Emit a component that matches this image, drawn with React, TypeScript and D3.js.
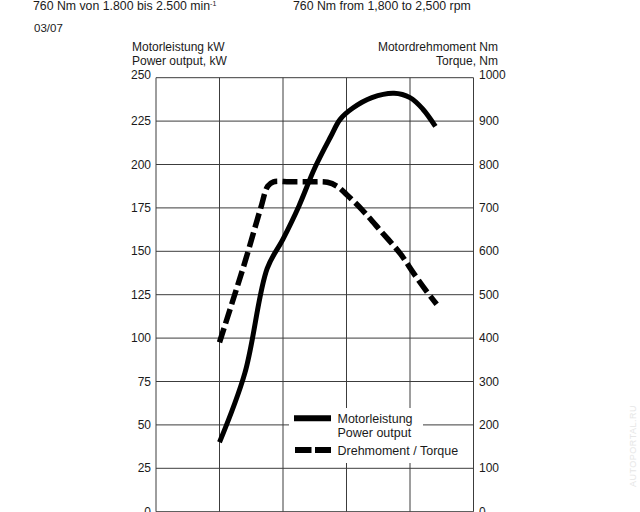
import React from "react";
import * as d3 from "d3";

// rpm values (x) and readings
const powerRpm = [1000, 1400, 1750, 2000, 2250, 2500, 2750, 2900, 3100, 3400, 3750, 4000, 4200, 4400];
const powerKw = [40, 80, 140, 157, 176, 198, 216, 226, 232.5, 238.5, 241, 238.5, 232, 222];

const torqueRpm = [1000, 1200, 1400, 1650, 1760, 1850, 2100, 2450, 2700, 2850, 3000, 3250, 3550, 3850, 4050, 4250, 4420];
const torqueNm = [390, 482, 575, 700, 750, 760, 760, 760, 759, 750, 731, 695, 645, 594, 551, 510, 478];

const rpmGridLines = [0, 1000, 2000, 3000, 4000, 5000];
const leftTicks = [0, 25, 50, 75, 100, 125, 150, 175, 200, 225, 250];
const rightTicks = [0, 100, 200, 300, 400, 500, 600, 700, 800, 900, 1000];

const FONT = "'Liberation Sans', Arial, Helvetica, sans-serif";

export default function App() {
  const x = d3.scaleLinear().domain([0, 5000]).range([156, 473.5]);
  const yL = d3.scaleLinear().domain([0, 250]).range([511.7, 77.7]);
  const yR = d3.scaleLinear().domain([0, 1000]).range([511.7, 77.7]);

  const powerLine = d3
    .line<number>()
    .x((_, i) => x(powerRpm[i]))
    .y((d) => yL(d))
    .curve(d3.curveCatmullRom.alpha(0.5))(powerKw) as string;

  const torqueLine = d3
    .line<number>()
    .x((_, i) => x(torqueRpm[i]))
    .y((d) => yR(d))
    .curve(d3.curveCatmullRom.alpha(0.5))(torqueNm) as string;

  const gridColor = "#3c3c3c";
  const textColor = "#1a1a1a";

  return (
    <svg
      width={640}
      height={512}
      style={{ position: "absolute", left: 0, top: 0, background: "#fff" }}
      fontFamily={FONT}
    >
      <rect x={0} y={0} width={640} height={512} fill="#fff" />
      {/* header */}
      <text x={33} y={10} fontSize={12.3} fill={textColor}>
        760 Nm von 1.800 bis 2.500 min
        <tspan fontSize={7} dy={-4.5}>-1</tspan>
      </text>
      <text x={293} y={10} fontSize={12.3} fill={textColor}>
        760 Nm from 1,800 to 2,500 rpm
      </text>
      <text x={34} y={32} fontSize={11.5} fill={textColor}>
        03/07
      </text>

      {/* axis titles */}
      <text x={132} y={51} fontSize={12} fill={textColor}>Motorleistung kW</text>
      <text x={132} y={65} fontSize={12} fill={textColor}>Power output, kW</text>
      <text x={498} y={51} fontSize={12} fill={textColor} textAnchor="end">Motordrehmoment Nm</text>
      <text x={498} y={65} fontSize={12} fill={textColor} textAnchor="end">Torque, Nm</text>

      {/* grid */}
      {leftTicks.map((t) => (
        <line key={"h" + t} x1={x(0)} x2={x(5000)} y1={yL(t)} y2={yL(t)} stroke={gridColor} strokeWidth={1} />
      ))}
      {rpmGridLines.map((r) => (
        <line key={"v" + r} x1={x(r)} x2={x(r)} y1={yL(250)} y2={yL(0)} stroke={gridColor} strokeWidth={1} />
      ))}

      {/* tick labels */}
      {leftTicks.map((t) => (
        <text key={"lt" + t} x={151} y={yL(t) + (t === 250 ? 1.5 : 4)} fontSize={12} textAnchor="end" fill={textColor}>
          {t}
        </text>
      ))}
      {rightTicks.map((t) => (
        <text key={"rt" + t} x={479} y={yR(t) + (t === 1000 ? 1.5 : 4)} fontSize={12} fill={textColor}>
          {t}
        </text>
      ))}

      {/* legend background */}
      <rect x={289} y={408} width={134} height={55} fill="#fff" />

      {/* curves */}
      <path d={torqueLine} fill="none" stroke="#000" strokeWidth={5.5} strokeDasharray="15,5" />
      <path d={powerLine} fill="none" stroke="#000" strokeWidth={5} strokeLinecap="butt" strokeLinejoin="round" />

      {/* legend */}
      <line x1={294} x2={331} y1={418.3} y2={418.3} stroke="#000" strokeWidth={6} />
      <line x1={295} x2={331} y1={450} y2={450} stroke="#000" strokeWidth={6} strokeDasharray="16.5,3.5" />
      <text x={337.5} y={422.5} fontSize={12.5} fill={textColor}>Motorleistung</text>
      <text x={337.5} y={437} fontSize={12.5} fill={textColor}>Power output</text>
      <text x={337.5} y={454.5} fontSize={12.5} fill={textColor}>Drehmoment / Torque</text>

      {/* watermark */}
      <text
        x={0}
        y={0}
        transform="translate(636,446) rotate(-90)"
        fontSize={9}
        textAnchor="middle"
        fill="#e6e6e6"
        letterSpacing={0.5}
      >
        AUTOPORTAL.RU
      </text>
    </svg>
  );
}
